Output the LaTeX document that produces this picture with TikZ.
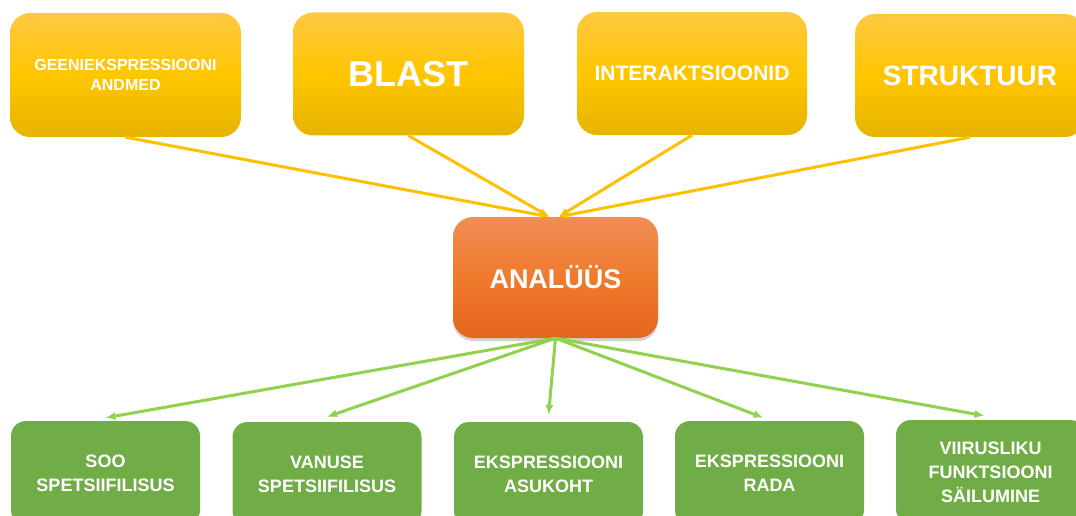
\documentclass[tikz,border=0pt]{standalone}
\usepackage{fontspec}
\setmainfont{Liberation Sans}
\usetikzlibrary{arrows.meta,shadows}
\definecolor{ytop}{HTML}{FFC843}
\definecolor{ymid}{HTML}{FFC600}
\definecolor{ybot}{HTML}{E6B400}
\definecolor{otop}{HTML}{F08D55}
\definecolor{omid}{HTML}{EF7A2C}
\definecolor{obot}{HTML}{E5661B}
\definecolor{gbox}{HTML}{70AD47}
\definecolor{yline}{HTML}{FFC000}
\definecolor{gline}{HTML}{92D050}
\tikzset{
  srcbox/.style={rounded corners=20pt, top color=ytop, bottom color=ybot, middle color=ymid,
    draw=none, text=white, font=\bfseries, align=center, inner sep=2pt},
  anbox/.style={rounded corners=20pt, top color=otop, bottom color=obot, middle color=omid,
    draw=none, text=white, font=\bfseries\fontsize{27}{32}\selectfont, align=center,
    minimum width=205pt, minimum height=121pt,
    drop shadow={opacity=0.35, shadow xshift=0pt, shadow yshift=-3pt}},
  resbox/.style={rounded corners=15pt, fill=gbox, draw=none, text=white,
    font=\bfseries\fontsize{18}{24}\selectfont, align=center,
    minimum width=189pt, minimum height=104pt},
  inarrow/.style={draw=yline, line width=3pt, -{Latex[length=10pt,width=8pt]}},
  outarrow/.style={draw=gline, line width=3pt, -{Latex[length=10pt,width=8pt]}}
}
\begin{document}
\begin{tikzpicture}[x=1pt,y=-1pt]
\useasboundingbox (0,0) rectangle (1076,516);
\fill[white] (0,0) rectangle (1076,516);
% top sources
\node[srcbox, minimum width=231pt, minimum height=124pt, font=\bfseries\fontsize{16}{20}\selectfont] (b1) at (125.5,75) {GEENIEKSPRESSIOONI\\ANDMED};
\node[srcbox, minimum width=231pt, minimum height=123pt, font=\bfseries\fontsize{36}{40}\selectfont] (b2) at (408.5,74) {BLAST};
\node[srcbox, minimum width=230pt, minimum height=123pt, font=\bfseries\fontsize{21}{26}\selectfont] (b3) at (692,73.5) {INTERAKTSIOONID};
\node[srcbox, minimum width=230pt, minimum height=123pt, font=\bfseries\fontsize{28}{32}\selectfont] (b4) at (970,75.5) {STRUKTUUR};
% analysis
\node[anbox] (an) at (555.5,277.5) {ANALÜÜS};
% results
\node[resbox] (r1) at (105.5,473) {SOO\\SPETSIIFILISUS};
\node[resbox] (r2) at (327,474) {VANUSE\\SPETSIIFILISUS};
\node[resbox] (r3) at (548.5,474) {EKSPRESSIOONI\\ASUKOHT};
\node[resbox] (r4) at (769.5,473) {EKSPRESSIOONI\\RADA};
\node[resbox] (r5) at (990.5,472) {VIIRUSLIKU\\FUNKTSIOONI\\SÄILUMINE};
% incoming arrows
\draw[inarrow] (b1.south) -- ([xshift=-6pt]an.north);
\draw[inarrow] (b2.south) -- ([xshift=-6pt]an.north);
\draw[inarrow] (b3.south) -- ([xshift=3pt]an.north);
\draw[inarrow] (b4.south) -- ([xshift=3pt]an.north);
% outgoing arrows
\draw[outarrow] (an.south) -- ([yshift=3pt]r1.north);
\draw[outarrow] (an.south) -- ([yshift=5pt]r2.north);
\draw[outarrow] (an.south) -- ([yshift=7pt]r3.north);
\draw[outarrow] (an.south) -- ([xshift=-6pt,yshift=3pt]r4.north);
\draw[outarrow] (an.south) -- ([xshift=-6pt,yshift=4pt]r5.north);
\end{tikzpicture}
\end{document}
